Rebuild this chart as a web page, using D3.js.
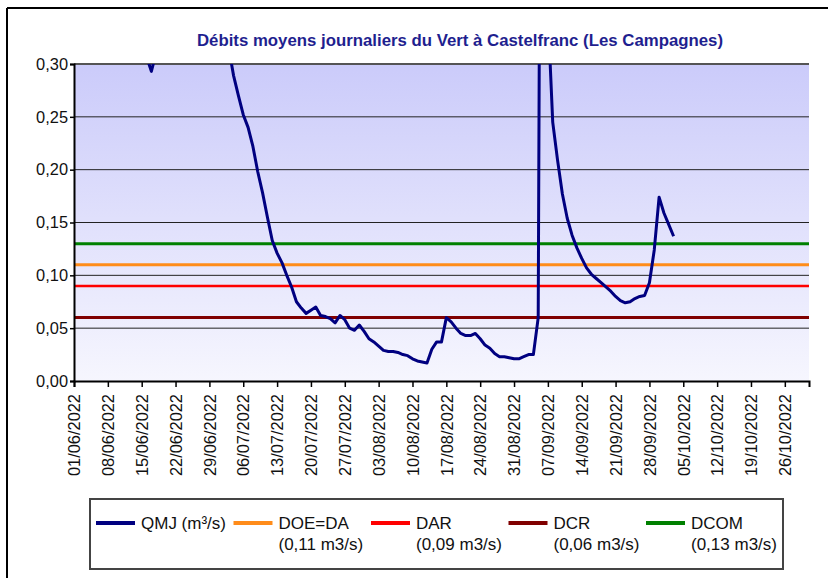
<!DOCTYPE html>
<html>
<head>
<meta charset="utf-8">
<script src="https://cdn.jsdelivr.net/npm/d3@7"></script>
<style>
  html, body { margin: 0; padding: 0; background: #fff; }
  svg { display: block; font-family: "Liberation Sans", Arial, sans-serif; }
</style>
</head>
<body>
<svg id="chart" width="828" height="578"></svg>
<script>
// ---------- DATA ----------
const title = "Débits moyens journaliers du Vert à Castelfranc (Les Campagnes)";
const startDate = "2022-06-01";
const endDate = "2022-10-31";
// daily mean flow QMJ (m3/s), one value per day from 01/06/2022
const qmjValues = [
  0.48, 0.45, 0.42, 0.40, 0.38, 0.36, 0.35, 0.34, 0.33, 0.33,
  0.32, 0.32, 0.315, 0.312, 0.31, 0.307, 0.293, 0.311, 0.33, 0.36,
  0.40, 0.44, 0.46, 0.45, 0.43, 0.41, 0.39, 0.37, 0.36, 0.35,
  0.34, 0.33, 0.315, 0.289, 0.270, 0.252, 0.240, 0.222, 0.198, 0.178,
  0.155, 0.133, 0.121, 0.112, 0.100, 0.089, 0.075, 0.069, 0.064, 0.067,
  0.070, 0.062, 0.061, 0.059, 0.055, 0.062, 0.058, 0.050, 0.048, 0.053,
  0.047, 0.040, 0.037, 0.033, 0.029, 0.028, 0.028, 0.027, 0.025, 0.024,
  0.021, 0.019, 0.018, 0.017, 0.030, 0.037, 0.037, 0.060, 0.056, 0.050,
  0.045, 0.043, 0.043, 0.045, 0.040, 0.034, 0.031, 0.026, 0.023, 0.023,
  0.022, 0.021, 0.021, 0.023, 0.025, 0.025, 0.060, 1.200, 0.350, 0.245,
  0.209, 0.177, 0.154, 0.138, 0.126, 0.116, 0.107, 0.101, 0.097, 0.093,
  0.089, 0.085, 0.080, 0.076, 0.074, 0.075, 0.078, 0.080, 0.081, 0.093,
  0.124, 0.174, 0.159, 0.148, 0.137
];
const thresholdNames = ["DOE=DA", "DAR", "DCR", "DCOM"];
const thresholdValues = [0.11, 0.09, 0.06, 0.13];
const thresholdLabels = ["(0,11 m3/s)", "(0,09 m3/s)", "(0,06 m3/s)", "(0,13 m3/s)"];
const thresholdColors = ["#ff8c1a", "#ff0000", "#800000", "#008000"];
const qmjName = "QMJ (m³/s)";
const qmjColor = "#000080";
const yTicks = [0, 0.05, 0.10, 0.15, 0.20, 0.25, 0.30];

// ---------- LAYOUT ----------
const svg = d3.select("#chart");
const plot = { left: 74, right: 809, top: 64, bottom: 381 };

const parse = d3.utcParse("%Y-%m-%d");
const d0 = parse(startDate), d1 = parse(endDate);
const x = d3.scaleUtc().domain([d0, d1]).range([plot.left, plot.right]);
const y = d3.scaleLinear().domain([0, 0.30]).range([plot.bottom, plot.top]);

const fr = d3.formatLocale({ decimal: ",", thousands: " ", grouping: [3], currency: ["", " €"] });
const fmtY = fr.format(".2f");

// outer frame (top and left only visible)
svg.append("line").attr("x1", 7).attr("x2", 828).attr("y1", 8).attr("y2", 8)
  .attr("stroke", "#000").attr("stroke-width", 2);
svg.append("line").attr("x1", 7).attr("x2", 7).attr("y1", 8).attr("y2", 578)
  .attr("stroke", "#000").attr("stroke-width", 2);

// background gradient
const defs = svg.append("defs");
const grad = defs.append("linearGradient").attr("id", "bg").attr("x1", 0).attr("y1", 0).attr("x2", 0).attr("y2", 1);
grad.append("stop").attr("offset", "0%").attr("stop-color", "#cbcbfa");
grad.append("stop").attr("offset", "100%").attr("stop-color", "#f6f6fe");
defs.append("clipPath").attr("id", "clip").append("rect")
  .attr("x", plot.left).attr("y", plot.top)
  .attr("width", plot.right - plot.left).attr("height", plot.bottom - plot.top);

svg.append("rect").attr("x", plot.left).attr("y", plot.top)
  .attr("width", plot.right - plot.left).attr("height", plot.bottom - plot.top)
  .attr("fill", "url(#bg)");

// gridlines
svg.append("g").selectAll("line").data(yTicks.filter(d => d > 0)).join("line")
  .attr("x1", plot.left).attr("x2", plot.right)
  .attr("y1", d => y(d)).attr("y2", d => y(d))
  .attr("stroke", d => d === 0.30 ? "#555" : "#222")
  .attr("stroke-width", d => d === 0.30 ? 2 : 1);

// title
svg.append("text").attr("x", 460).attr("y", 46).attr("text-anchor", "middle")
  .attr("font-weight", "bold").attr("font-size", 16.8).attr("fill", "#1f1f8f")
  .text(title);

// threshold lines
const thr = thresholdValues.map((v, i) => ({ v, c: thresholdColors[i] }));
svg.append("g").attr("clip-path", "url(#clip)").selectAll("line").data(thr).join("line")
  .attr("x1", plot.left).attr("x2", plot.right)
  .attr("y1", d => y(d.v)).attr("y2", d => y(d.v))
  .attr("stroke", d => d.c)
  .attr("stroke-width", d => d.c === "#ff0000" ? 2.5 : 3);

// QMJ line
const series = qmjValues.map((v, i) => ({ date: d3.utcDay.offset(d0, i), v }));
const line = d3.line().x(d => x(d.date)).y(d => y(d.v));
svg.append("g").attr("clip-path", "url(#clip)").append("path")
  .datum(series).attr("d", line)
  .attr("fill", "none").attr("stroke", qmjColor).attr("stroke-width", 3)
  .attr("stroke-linejoin", "round");

// Y axis
const yAxis = svg.append("g").attr("transform", `translate(${plot.left},0)`)
  .call(d3.axisLeft(y).tickValues(yTicks).tickFormat(fmtY).tickSize(4).tickPadding(2));
yAxis.select(".domain").attr("stroke", "#000").attr("stroke-width", 2);
yAxis.selectAll(".tick line").attr("stroke", "#000").attr("stroke-width", 1.5);
yAxis.selectAll("text").attr("font-size", 16.4).attr("fill", "#111")
  .attr("font-family", "Liberation Sans, Arial, sans-serif");

// X axis
const xTicks = d3.utcDay.range(d0, d3.utcDay.offset(d1, 1), 7);
const xAxis = svg.append("g").attr("transform", `translate(0,${plot.bottom})`)
  .call(d3.axisBottom(x).tickValues(xTicks).tickFormat(d3.utcFormat("%d/%m/%Y")).tickSizeOuter(0).tickSize(6));
xAxis.select(".domain").attr("stroke", "#000").attr("stroke-width", 2);
xAxis.selectAll(".tick line").attr("stroke", "#000").attr("stroke-width", 1.5);
xAxis.selectAll("text")
  .attr("font-size", 16.4).attr("fill", "#111")
  .attr("font-family", "Liberation Sans, Arial, sans-serif")
  .attr("transform", "rotate(-90)")
  .attr("x", -13).attr("y", 0).attr("dy", "0.35em")
  .style("text-anchor", "end");

// Legend
const legend = svg.append("g");
legend.append("rect").attr("x", 90).attr("y", 499).attr("width", 693).attr("height", 70)
  .attr("fill", "#fff").attr("stroke", "#444").attr("stroke-width", 2);
const items = [{ name: qmjName, sub: "", color: qmjColor }].concat(
  thresholdNames.map((n, i) => ({ name: n, sub: thresholdLabels[i], color: thresholdColors[i] })));
const lg = legend.selectAll("g.item").data(items).join("g").attr("class", "item")
  .attr("transform", (d, i) => `translate(${96 + i * 137.5},523)`);
lg.append("line").attr("x1", 0).attr("x2", 39).attr("y1", 0).attr("y2", 0)
  .attr("stroke", d => d.color).attr("stroke-width", 4);
lg.append("text").attr("x", 45).attr("y", 0).attr("dy", "0.35em")
  .attr("font-size", 17).attr("fill", "#111").text(d => d.name);
lg.append("text").attr("x", 45).attr("y", 21).attr("dy", "0.35em")
  .attr("font-size", 17).attr("fill", "#111").text(d => d.sub);
</script>
</body>
</html>
